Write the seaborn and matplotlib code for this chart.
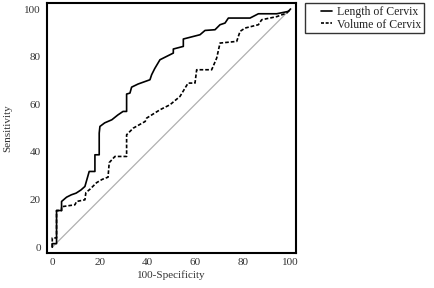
import matplotlib
matplotlib.use("Agg")
import matplotlib.pyplot as plt
import seaborn as sns
import pandas as pd
from matplotlib.legend_handler import HandlerLine2D
from matplotlib.lines import Line2D

# ROC curve vertices (100-Specificity, Sensitivity)
length_x = [0, 0, 1.8, 1.8, 3.9, 3.9, 6, 8, 10, 12, 13.7, 15.5, 17.9, 17.9, 19.7, 19.7,
            20, 22, 25, 27.5, 29.7, 31.2, 31.2, 32.6, 33.3, 36, 41, 41.7, 43, 45.2,
            50.8, 50.8, 55, 55, 62, 64.1, 68.3, 70.4, 72.5, 73.9, 83, 86.5, 94.2, 99.1, 100]
length_y = [0, 1.5, 1.5, 15.4, 15.4, 19.2, 21, 22, 22.7, 24, 25.5, 31.8, 31.8, 38.8, 38.8, 47.9,
            50.7, 52.2, 53.5, 55.5, 57, 57, 64.3, 64.7, 67.2, 68.5, 70.3, 72.4, 75, 78.7,
            81.5, 83.2, 84.3, 87.4, 89.2, 91, 91.3, 93.4, 94.1, 96.2, 96.2, 98, 98, 99, 100]

volume_x = [0, 0, 1.8, 1.8, 3.9, 3.9, 9.5, 10.2, 13.7, 14.1, 16, 18.6, 21, 23.4, 23.9, 26.3,
            31.2, 31.2, 34, 39, 39.6, 45.2, 49.4, 53.6, 57, 59.9, 60.6, 66.9, 69, 70.4,
            77.4, 78.8, 80.9, 86.5, 87.9, 94.2, 98.4, 100]
volume_y = [0, 3.9, 3.9, 15.4, 15.4, 17, 17.8, 19.2, 19.9, 22.9, 24.5, 27.1, 28.5, 29.4, 35.5, 38.1,
            38.1, 47.2, 50, 52.8, 54.2, 57.7, 59.8, 63.3, 68.9, 68.9, 74.5, 74.5, 79.4, 85.7,
            86.4, 90.6, 92, 93.4, 95.5, 96.8, 98.3, 100]

diag = [0, 100]
ticks = [0, 20, 40, 60, 80, 100]
series_names = ["Length of Cervix", "Volume of Cervix"]

sns.set_style("white")
plt.rcParams['font.family'] = ['Liberation Serif', 'DejaVu Serif']

fig = plt.figure(figsize=(4.35, 2.88), dpi=100)
ax = fig.add_axes([0.107, 0.1226, 0.573, 0.866])

ax.plot(diag, diag, color="#b0b0b0", lw=0.9, zorder=1)

df_len = pd.DataFrame({"x": length_x, "y": length_y})
df_vol = pd.DataFrame({"x": volume_x, "y": volume_y})
dash = (0, (2.2, 1.2))
sns.lineplot(data=df_len, x="x", y="y", sort=False, estimator=None, ax=ax,
             color="black", lw=1.2, legend=False)
sns.lineplot(data=df_vol, x="x", y="y", sort=False, estimator=None, ax=ax,
             color="black", lw=1.2, linestyle=dash, legend=False)

ax.set_xlim(-2.4, 102.2)
ax.set_ylim(-2.3, 102.4)
ax.set_xticks(ticks)
ax.set_yticks(ticks)
ax.tick_params(direction="in", length=4, width=1.0, labelsize=8, colors="black", pad=4)
for lab in ax.get_xticklabels() + ax.get_yticklabels():
    lab.set_color("#333333")
for s in ax.spines.values():
    s.set_linewidth(1.5)
    s.set_color("black")
ax.set_xlabel("100-Specificity", fontsize=8, color="#333333", labelpad=2)
ax.set_ylabel("Sensitivity", fontsize=8, color="#333333", labelpad=9)

handles = [Line2D([], [], color="black", lw=1.2),
           Line2D([], [], color="black", lw=1.2, linestyle=(0, (1.8, 1.0)))]
leg = ax.legend(handles, series_names, loc="upper left",
                bbox_to_anchor=(305/435, 1-3/288),
                bbox_transform=fig.transFigure, frameon=True, fancybox=False,
                fontsize=8.5, handlelength=2.0, handletextpad=0.45, borderpad=0.25,
                labelspacing=0.05, borderaxespad=0,
                handler_map={Line2D: HandlerLine2D(xpad=1.1)})
leg.get_frame().set_edgecolor("black")
leg.get_frame().set_linewidth(1.0)
for t in leg.get_texts():
    t.set_color("#222222")

fig.savefig("out.png", dpi=100)
